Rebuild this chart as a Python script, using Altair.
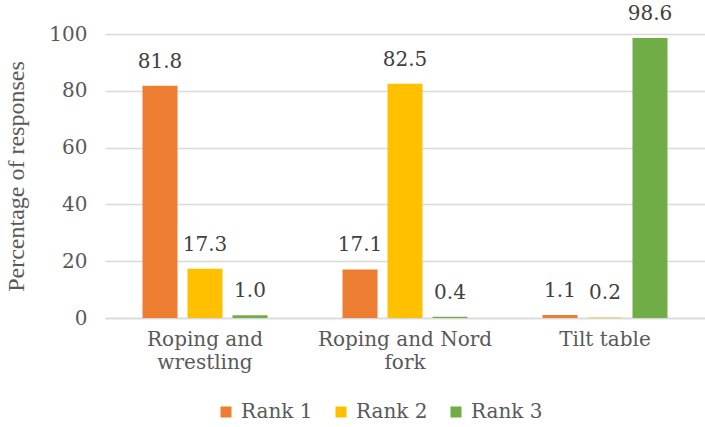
import altair as alt
import pandas as pd

categories = ["Roping and wrestling", "Roping and Nord fork", "Tilt table"]
ranks = ["Rank 1", "Rank 2", "Rank 3"]
rank1 = [81.8, 17.1, 1.1]
rank2 = [17.3, 82.5, 0.2]
rank3 = [1.0, 0.4, 98.6]
colors = ["#ED7D31", "#FFC000", "#70AD47"]

rows = []
for i, c in enumerate(categories):
    for r, vals in zip(ranks, [rank1, rank2, rank3]):
        rows.append({"category": c, "rank": r, "value": vals[i]})
df = pd.DataFrame(rows)

TITLE_FONT = "Liberation Serif"
ALT = "DejaVu Serif"

label_expr = ("datum.value == 'Roping and wrestling' ? ['Roping and', 'wrestling'] : "
              "datum.value == 'Roping and Nord fork' ? ['Roping and Nord', 'fork'] : datum.value")

x = alt.X("category:N", sort=categories,
          scale=alt.Scale(paddingInner=0.375, paddingOuter=0.1875),
          axis=alt.Axis(title=None, labelAngle=0, labelExpr=label_expr, labelFont=ALT,
                        labelFontSize=20, labelColor="#595959", labelLineHeight=23,
                        ticks=False, domainColor="#D9D9D9", domainWidth=1.5,
                        labelPadding=11, labelLimit=300))
xo = alt.XOffset("rank:N", sort=ranks, scale=alt.Scale(paddingInner=0.222, paddingOuter=0))
y = alt.Y("value:Q", scale=alt.Scale(domain=[0, 100], nice=False),
          axis=alt.Axis(title="Percentage of responses", values=[0, 20, 40, 60, 80, 100],
                        labelFont=ALT, labelFontSize=20, labelColor="#595959",
                        titleFont=TITLE_FONT, titleFontSize=24, titleColor="#595959",
                        titleFontWeight="normal", domain=False, ticks=False,
                        labelPadding=18, gridColor="#D9D9D9", gridWidth=1.5,
                        titleX=-77, titleY=142, titleAlign="center", titleAngle=-90))

color = alt.Color("rank:N", sort=ranks, scale=alt.Scale(domain=ranks, range=colors),
                  legend=alt.Legend(title=None, orient="none", direction="horizontal",
                                    legendX=111, legendY=368, padding=0, labelFont=ALT,
                                    labelFontSize=20, labelColor="#595959",
                                    symbolType="square", symbolSize=121, symbolStrokeWidth=0,
                                    labelOffset=5, columnPadding=18))

base = alt.Chart(df).encode(x=x, xOffset=xo, y=y)
bars = base.mark_bar().encode(color=color)
labels = base.mark_text(font=ALT, fontSize=20, color="#404040", dy=-18,
                        baseline="alphabetic").encode(text=alt.Text("value:Q", format=".1f"))

chart = (bars + labels).properties(
    width=600, height=284,
    padding={"left": 105, "top": 34, "right": 0, "bottom": 109},
    autosize=alt.AutoSizeParams(type="none"),
).configure_view(stroke=None)

chart.save("out.html", embed_options={"renderer": "svg", "actions": False})
